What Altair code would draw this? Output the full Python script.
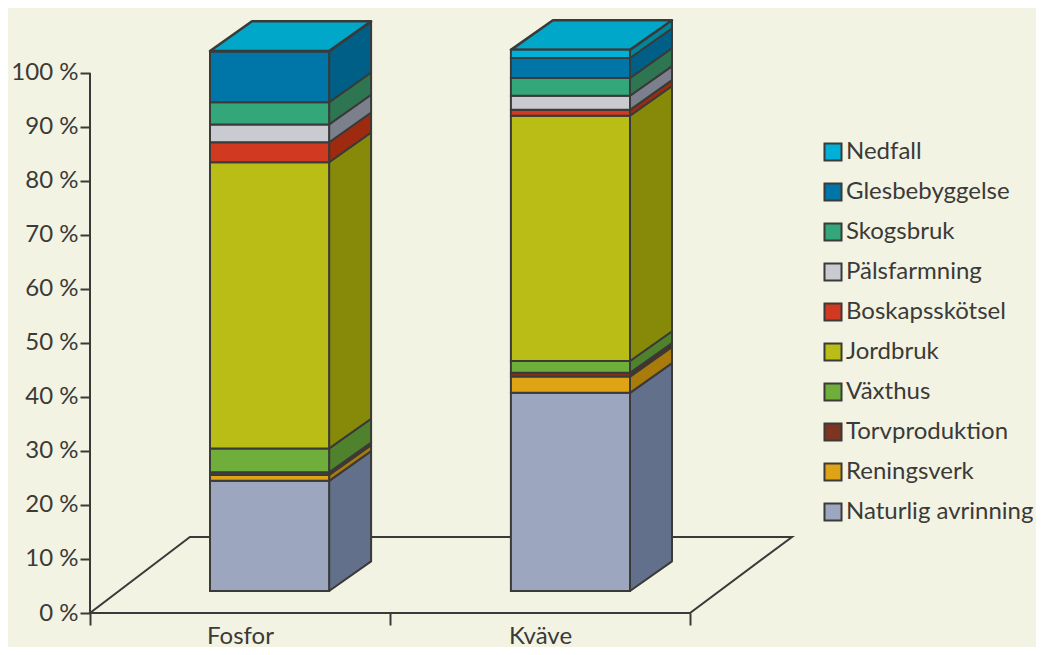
import altair as alt
import pandas as pd

measures = ["Fosfor", "Kväve"]
segments = ["Naturlig avrinning", "Reningsverk", "Torvproduktion", "Växthus", "Jordbruk",
            "Boskapsskötsel", "Pälsfarmning", "Skogsbruk", "Glesbebyggelse", "Nedfall"]
fosfor = [20.4, 1.1, 0.5, 4.4, 53.0, 3.7, 3.3, 4.1, 9.4, 0.1]
kvave = [36.7, 3.0, 0.7, 2.2, 45.4, 1.1, 2.6, 3.3, 3.7, 1.5]
values = {"Fosfor": fosfor, "Kväve": kvave}

front_colors = ["#9da6bf", "#dfa316", "#7d3420", "#6fae3b", "#bbbd17",
                "#d13a21", "#c9cbd0", "#33a77a", "#0076a8", "#00b0d8"]
side_colors = ["#63708c", "#a87b0a", "#5a2a1a", "#50822e", "#878909",
               "#9e2a10", "#7b808c", "#2e7552", "#005f87", "#00869b"]
top_color = "#00a7c8"
bg = "#f3f3e3"
ink = "#3a3a38"
font = "Lato"

# geometry of the oblique projection, in axis units
bar_left = {"Fosfor": 0.40, "Kväve": 1.403}
bar_width = 0.397
depth_x = 0.14
depth_y = 5.5
base = 4.07
floor_x = 0.333
floor_y = 14.07
x_max = 2.34
y_max = 109.8

front_rows, side_rows, top_rows = [], [], []
for m in measures:
    lo = base
    x0 = bar_left[m]
    x1 = x0 + bar_width
    for s, v, sc in zip(segments, values[m], side_colors):
        hi = lo + v
        front_rows.append(dict(m=m, seg=s, x0=x0, x1=x1, lo=lo, hi=hi))
        key = m + s
        side_rows.append(dict(key=key, c=sc, x=x1, lo=lo, hi=hi))
        side_rows.append(dict(key=key, c=sc, x=x1 + depth_x, lo=lo + depth_y, hi=hi + depth_y))
        lo = hi
    top_rows.append(dict(m=m, y=lo, x0=x0, x1=x1))
    top_rows.append(dict(m=m, y=lo + depth_y, x0=x0 + depth_x, x1=x1 + depth_x))

front_df = pd.DataFrame(front_rows)
side_df = pd.DataFrame(side_rows)
top_df = pd.DataFrame(top_rows)
floor_df = pd.DataFrame([dict(y=0, x0=0, x1=2), dict(y=floor_y, x0=floor_x, x1=floor_x + 2.007)])
axis_df = pd.DataFrame([dict(x=0, y=0, y2=100)])

xs = alt.Scale(domain=[0, x_max], nice=False, zero=False)
ys = alt.Scale(domain=[0, y_max], nice=False, zero=False)
W = 2.0

x_axis = alt.Axis(
    values=[0, 0.5, 1, 1.5, 2], title=None, grid=False, domain=False,
    tickSize=12, tickWidth=2, tickColor=ink,
    tickOpacity={"condition": {"test": "datum.value % 1 == 0", "value": 1}, "value": 0},
    labelExpr="datum.value == 0.5 ? 'Fosfor' : datum.value == 1.5 ? 'Kväve' : ''",
    labelFont=font, labelFontSize=24, labelColor=ink, labelPadding=-1, labelOverlap=False,
    labelFlush=False)
y_axis = alt.Axis(
    values=list(range(0, 101, 10)), title=None, grid=False, domain=False,
    tickSize=10, tickWidth=2, tickColor=ink,
    labelExpr="datum.value + ' %'",
    labelFont=font, labelFontSize=24, labelColor=ink, labelPadding=2, labelOverlap=False,
    labelFlush=False)

floor = alt.Chart(floor_df).mark_area(orient="horizontal", fillOpacity=0, stroke=ink, strokeWidth=W).encode(
    y=alt.Y("y:Q", scale=ys, axis=y_axis, stack=None),
    x=alt.X("x0:Q", scale=xs, axis=x_axis),
    x2="x1:Q",
)

side = alt.Chart(side_df).mark_area(stroke=ink, strokeWidth=W, strokeJoin="round").encode(
    x=alt.X("x:Q", scale=xs, axis=x_axis),
    y=alt.Y("lo:Q", scale=ys, axis=y_axis, stack=None),
    y2="hi:Q",
    detail="key:N",
    color=alt.Color("c:N", scale=None),
)

top = alt.Chart(top_df).mark_area(orient="horizontal", fill=top_color, stroke=ink, strokeWidth=W + 0.5, strokeJoin="round").encode(
    y=alt.Y("y:Q", scale=ys, axis=y_axis, stack=None),
    x=alt.X("x0:Q", scale=xs, axis=x_axis),
    x2="x1:Q",
    detail="m:N",
)

front = alt.Chart(front_df).mark_bar(stroke=ink, strokeWidth=W).encode(
    x=alt.X("x0:Q", scale=xs, axis=x_axis),
    x2="x1:Q",
    y=alt.Y("lo:Q", scale=ys, stack=None, axis=y_axis),
    y2="hi:Q",
    color=alt.Color("seg:N", scale=alt.Scale(domain=segments[::-1], range=front_colors[::-1]),
                    legend=alt.Legend(
                        title=None, orient="none", legendX=731, legendY=120,
                        symbolType="square", symbolSize=290, symbolStrokeColor=ink, symbolStrokeWidth=2,
                        labelFont=font, labelFontSize=24, labelColor=ink, labelOffset=1,
                        rowPadding=14, labelLimit=260, symbolOpacity=1)),
)

y_rule = alt.Chart(axis_df).mark_rule(color=ink, strokeWidth=2).encode(
    x=alt.X("x:Q", scale=xs, axis=x_axis),
    y=alt.Y("y:Q", scale=ys, axis=y_axis),
    y2="y2:Q",
)

chart = alt.layer(floor, side, top, front, y_rule).resolve_scale(color="independent").properties(
    width=702,
    height=593,
    background=bg,
    autosize=alt.AutoSizeParams(type="none"),
    padding={"left": 82, "top": 12, "right": 244, "bottom": 34},
).configure_view(stroke=None)

chart.save("out.html", embed_options={"renderer": "svg", "actions": False})
